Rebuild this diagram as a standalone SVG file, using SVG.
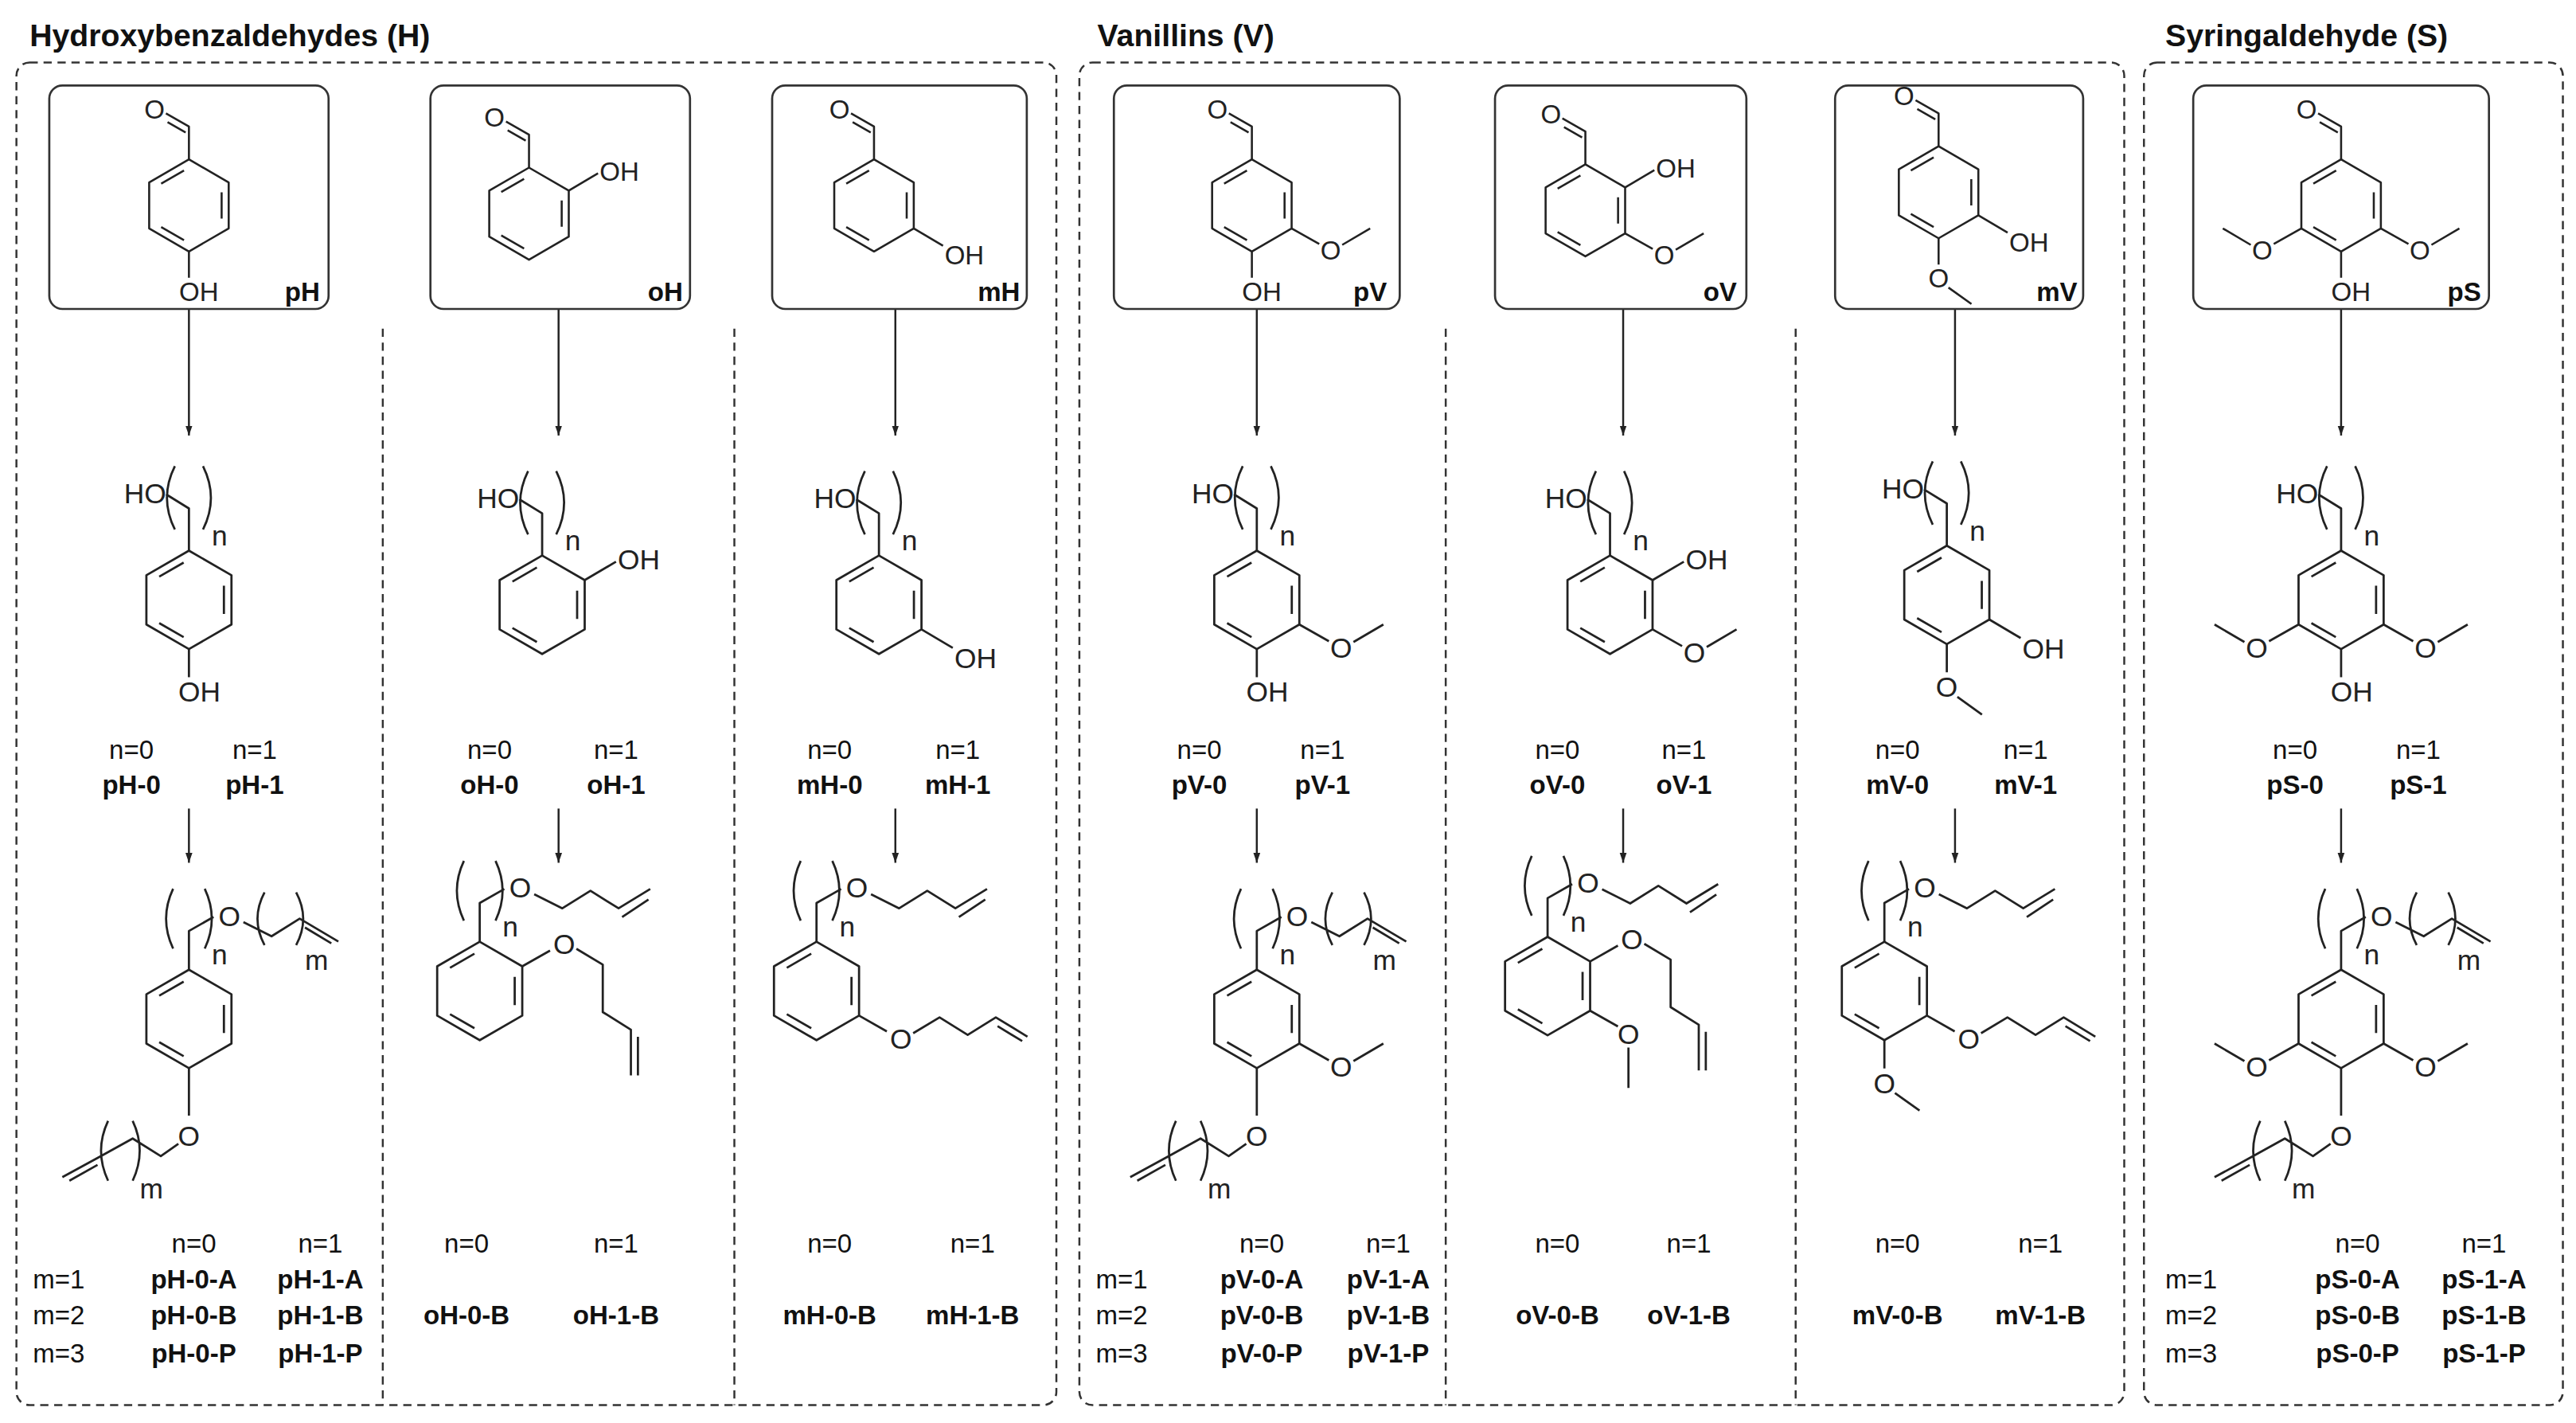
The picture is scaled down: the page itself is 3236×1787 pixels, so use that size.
<svg xmlns="http://www.w3.org/2000/svg" width="3236" height="1787" viewBox="0 0 3236 1787">
<style>
.b{fill:none;stroke:#333;stroke-width:1.3}
.d{fill:none;stroke:#333;stroke-width:1.2;stroke-dasharray:5 3.5}
.mol{fill:none;stroke:#222;stroke-width:1.25;stroke-linejoin:round}
.tt{font-family:"Liberation Sans",Arial,sans-serif;font-weight:bold;font-size:19px;fill:#111;stroke:none}
.lb{font-family:"Liberation Sans",Arial,sans-serif;font-size:16px;fill:#111;stroke:none;text-anchor:middle}
.cd{font-family:"Liberation Sans",Arial,sans-serif;font-size:16px;font-weight:bold;fill:#111;stroke:none;text-anchor:middle}
.mr{font-family:"Liberation Sans",Arial,sans-serif;font-size:16px;fill:#111;stroke:none}
.ar{fill:none;stroke:#222;stroke-width:1.2}
</style>
<defs>
<marker id="ah" viewBox="0 0 10 10" refX="10" refY="5" markerWidth="6" markerHeight="9" markerUnits="userSpaceOnUse" orient="auto"><path d="M0,1.5 L10,5 L0,8.5 Z" fill="#222" stroke="none"/></marker>
<g id="ring"><path d="M0,-28 L24.2,-14 L24.2,14 L0,28 L-24.2,14 L-24.2,-14 Z M-3,-21.2 L-16.9,-13.2 M19.9,-8 L19.9,8 M-3,21.2 L-16.9,13.2"/></g>
<g id="cho"><path d="M0,-28 V-48 L-14,-56 M-2,-44.4 L-13,-50.7"/><text x="-21" y="-53" text-anchor="middle" fill="#222" stroke="none">O</text></g>
<g id="ohB"><path d="M0,28 V44"/><text x="-6" y="58" fill="#222" stroke="none">OH</text></g>
<g id="ohUR"><path d="M24.2,-14 L42,-24.5"/><text x="43" y="-20" fill="#222" stroke="none">OH</text></g>
<g id="ohLR"><path d="M24.2,14 L42,24.5"/><text x="43" y="36" fill="#222" stroke="none">OH</text></g>
<g id="omeLR"><path d="M24.2,14 L41,23.5 M55,24 L72,14"/><text x="48" y="33" text-anchor="middle" fill="#222" stroke="none">O</text></g>
<g id="omeLL"><path d="M-24.2,14 L-41,23.5 M-55,24 L-72,14"/><text x="-48" y="33" text-anchor="middle" fill="#222" stroke="none">O</text></g>
<g id="omeB"><path d="M0,28 V44 M6,58 L20,68"/><text x="0" y="58" text-anchor="middle" fill="#222" stroke="none">O</text></g>
<g id="omeLRdown"><path d="M24.2,14 L40,23 M46,35 V58"/><text x="46" y="33" text-anchor="middle" fill="#222" stroke="none">O</text></g>
<g id="hochain"><path d="M0,-28 V-52 L-13,-60 M-8,-76 Q-17,-58 -8,-40 M8,-76 Q17,-58 8,-40"/><text x="-13" y="-55" text-anchor="end" fill="#222" stroke="none">HO</text><text x="13" y="-31" fill="#222" stroke="none">n</text></g>
<g id="topm"><path d="M0,-28 V-50 L14,-58 M-9,-74 Q-17,-57 -9,-40 M9,-74 Q17,-57 9,-40 M31,-55 L47,-47 L63,-57 L85,-44 M66,-52 L81,-43 M43,-72 Q35,-57 43,-42 M61,-72 Q69,-57 61,-42"/><text x="23" y="-53" text-anchor="middle" fill="#222" stroke="none">O</text><text x="13" y="-31" fill="#222" stroke="none">n</text><text x="66" y="-28" fill="#222" stroke="none">m</text></g>
<g id="topB"><path d="M0,-28 V-50 L14,-58 M-9,-74 Q-17,-57 -9,-40 M9,-74 Q17,-57 9,-40 M31,-55 L47,-47 L63,-57 L79,-47 L97,-58 M81,-42 L96,-52"/><text x="23" y="-53" text-anchor="middle" fill="#222" stroke="none">O</text><text x="13" y="-31" fill="#222" stroke="none">n</text></g>
<g id="paraOm"><path d="M0,28 V55 M-6,71 L-16,78 L-32,68 L-50,78 L-72,90 M-52,83 L-68,92 M-46,58 Q-54,75 -46,92 M-32,58 Q-24,75 -32,92"/><text x="0" y="72" text-anchor="middle" fill="#222" stroke="none">O</text><text x="-28" y="102" fill="#222" stroke="none">m</text></g>
<g id="orthoOB"><path d="M24.2,-14 L40,-23 M55,-24 L70,-15 V12 L86,22 V48 M90,26 V48"/><text x="48" y="-21" text-anchor="middle" fill="#222" stroke="none">O</text></g>
<g id="metaOB"><path d="M24.2,14 L40,23 M55,24 L70,15 L86,25 L102,15 L120,26 M103,20 L117,28.5"/><text x="48" y="33" text-anchor="middle" fill="#222" stroke="none">O</text></g>
</defs>
<rect width="3236" height="1787" fill="#fff"/>
<g transform="scale(2.0638)">
<g id="titles">
<text class="tt" x="18" y="28">Hydroxybenzaldehydes (H)</text>
<text class="tt" x="668" y="28">Vanillins (V)</text>
<text class="tt" x="1318" y="28">Syringaldehyde (S)</text>
</g>
<g id="frames">
<rect class="d" x="10" y="38" width="633" height="817" rx="8"/>
<rect class="d" x="657" y="38" width="636" height="817" rx="8"/>
<rect class="d" x="1305" y="38" width="255" height="817" rx="8"/>
<path class="d" d="M233,200 V855 M447,200 V855 M880,200 V855 M1093,200 V855"/>
</g>
<g id="connectors" class="ar">
<path marker-end="url(#ah)" d="M115,188 V265"/><path marker-end="url(#ah)" d="M115,492 V525"/>
<path marker-end="url(#ah)" d="M340,188 V265"/><path marker-end="url(#ah)" d="M340,492 V525"/>
<path marker-end="url(#ah)" d="M545,188 V265"/><path marker-end="url(#ah)" d="M545,492 V525"/>
<path marker-end="url(#ah)" d="M765,188 V265"/><path marker-end="url(#ah)" d="M765,492 V525"/>
<path marker-end="url(#ah)" d="M988,188 V265"/><path marker-end="url(#ah)" d="M988,492 V525"/>
<path marker-end="url(#ah)" d="M1190,188 V265"/><path marker-end="url(#ah)" d="M1190,492 V525"/>
<path marker-end="url(#ah)" d="M1425,188 V265"/><path marker-end="url(#ah)" d="M1425,492 V525"/>
</g>

<g id="pH" class="mol" font-family="Liberation Sans, Arial, sans-serif" font-size="16">
<rect class="b" x="30" y="52" width="170" height="136" rx="8"/>
<g transform="translate(115,125)"><use href="#ring"/><use href="#cho"/><use href="#ohB"/></g>
<text class="cd" x="184" y="183">pH</text>
</g>
<g id="pH-n" class="mol" font-family="Liberation Sans, Arial, sans-serif" font-size="16">
<g transform="translate(115,365) scale(1.07)"><use href="#ring"/><use href="#hochain"/><use href="#ohB"/></g>
<text class="lb" x="80" y="462">n=0</text><text class="lb" x="155" y="462">n=1</text>
<text class="cd" x="80" y="483">pH-0</text><text class="cd" x="155" y="483">pH-1</text>
</g>
<g id="pH-nm" class="mol" font-family="Liberation Sans, Arial, sans-serif" font-size="16">
<g transform="translate(115,620) scale(1.07)"><use href="#ring"/><use href="#topm"/><use href="#paraOm"/></g>
<text class="lb" x="118" y="762">n=0</text><text class="lb" x="195" y="762">n=1</text>
<text class="mr" x="20" y="784">m=1</text><text class="cd" x="118" y="784">pH-0-A</text><text class="cd" x="195" y="784">pH-1-A</text>
<text class="mr" x="20" y="806">m=2</text><text class="cd" x="118" y="806">pH-0-B</text><text class="cd" x="195" y="806">pH-1-B</text>
<text class="mr" x="20" y="829">m=3</text><text class="cd" x="118" y="829">pH-0-P</text><text class="cd" x="195" y="829">pH-1-P</text>
</g>

<g id="oH" class="mol" font-family="Liberation Sans, Arial, sans-serif" font-size="16">
<rect class="b" x="262" y="52" width="158" height="136" rx="8"/>
<g transform="translate(322,130)"><use href="#ring"/><use href="#cho"/><use href="#ohUR"/></g>
<text class="cd" x="405" y="183">oH</text>
</g>
<g id="oH-n" class="mol" font-family="Liberation Sans, Arial, sans-serif" font-size="16">
<g transform="translate(330,368) scale(1.07)"><use href="#ring"/><use href="#hochain"/><use href="#ohUR"/></g>
<text class="lb" x="298" y="462">n=0</text><text class="lb" x="375" y="462">n=1</text>
<text class="cd" x="298" y="483">oH-0</text><text class="cd" x="375" y="483">oH-1</text>
</g>
<g id="oH-B" class="mol" font-family="Liberation Sans, Arial, sans-serif" font-size="16">
<g transform="translate(292,603) scale(1.07)"><use href="#ring"/><use href="#topB"/><use href="#orthoOB"/></g>
<text class="lb" x="284" y="762">n=0</text><text class="lb" x="375" y="762">n=1</text>
<text class="cd" x="284" y="806">oH-0-B</text><text class="cd" x="375" y="806">oH-1-B</text>
</g>

<g id="mH" class="mol" font-family="Liberation Sans, Arial, sans-serif" font-size="16">
<rect class="b" x="470" y="52" width="155" height="136" rx="8"/>
<g transform="translate(532,125)"><use href="#ring"/><use href="#cho"/><use href="#ohLR"/></g>
<text class="cd" x="608" y="183">mH</text>
</g>
<g id="mH-n" class="mol" font-family="Liberation Sans, Arial, sans-serif" font-size="16">
<g transform="translate(535,368) scale(1.07)"><use href="#ring"/><use href="#hochain"/><use href="#ohLR"/></g>
<text class="lb" x="505" y="462">n=0</text><text class="lb" x="583" y="462">n=1</text>
<text class="cd" x="505" y="483">mH-0</text><text class="cd" x="583" y="483">mH-1</text>
</g>
<g id="mH-B" class="mol" font-family="Liberation Sans, Arial, sans-serif" font-size="16">
<g transform="translate(497,603) scale(1.07)"><use href="#ring"/><use href="#topB"/><use href="#metaOB"/></g>
<text class="lb" x="505" y="762">n=0</text><text class="lb" x="592" y="762">n=1</text>
<text class="cd" x="505" y="806">mH-0-B</text><text class="cd" x="592" y="806">mH-1-B</text>
</g>

<g id="pV" class="mol" font-family="Liberation Sans, Arial, sans-serif" font-size="16">
<rect class="b" x="678" y="52" width="174" height="136" rx="8"/>
<g transform="translate(762,125)"><use href="#ring"/><use href="#cho"/><use href="#ohB"/><use href="#omeLR"/></g>
<text class="cd" x="834" y="183">pV</text>
</g>
<g id="pV-n" class="mol" font-family="Liberation Sans, Arial, sans-serif" font-size="16">
<g transform="translate(765,365) scale(1.07)"><use href="#ring"/><use href="#hochain"/><use href="#ohB"/><use href="#omeLR"/></g>
<text class="lb" x="730" y="462">n=0</text><text class="lb" x="805" y="462">n=1</text>
<text class="cd" x="730" y="483">pV-0</text><text class="cd" x="805" y="483">pV-1</text>
</g>
<g id="pV-nm" class="mol" font-family="Liberation Sans, Arial, sans-serif" font-size="16">
<g transform="translate(765,620) scale(1.07)"><use href="#ring"/><use href="#topm"/><use href="#paraOm"/><use href="#omeLR"/></g>
<text class="lb" x="768" y="762">n=0</text><text class="lb" x="845" y="762">n=1</text>
<text class="mr" x="667" y="784">m=1</text><text class="cd" x="768" y="784">pV-0-A</text><text class="cd" x="845" y="784">pV-1-A</text>
<text class="mr" x="667" y="806">m=2</text><text class="cd" x="768" y="806">pV-0-B</text><text class="cd" x="845" y="806">pV-1-B</text>
<text class="mr" x="667" y="829">m=3</text><text class="cd" x="768" y="829">pV-0-P</text><text class="cd" x="845" y="829">pV-1-P</text>
</g>

<g id="oV" class="mol" font-family="Liberation Sans, Arial, sans-serif" font-size="16">
<rect class="b" x="910" y="52" width="153" height="136" rx="8"/>
<g transform="translate(965,128)"><use href="#ring"/><use href="#cho"/><use href="#ohUR"/><use href="#omeLR"/></g>
<text class="cd" x="1047" y="183">oV</text>
</g>
<g id="oV-n" class="mol" font-family="Liberation Sans, Arial, sans-serif" font-size="16">
<g transform="translate(980,368) scale(1.07)"><use href="#ring"/><use href="#hochain"/><use href="#ohUR"/><use href="#omeLR"/></g>
<text class="lb" x="948" y="462">n=0</text><text class="lb" x="1025" y="462">n=1</text>
<text class="cd" x="948" y="483">oV-0</text><text class="cd" x="1025" y="483">oV-1</text>
</g>
<g id="oV-B" class="mol" font-family="Liberation Sans, Arial, sans-serif" font-size="16">
<g transform="translate(942,600) scale(1.07)"><use href="#ring"/><use href="#topB"/><use href="#orthoOB"/><use href="#omeLRdown"/></g>
<text class="lb" x="948" y="762">n=0</text><text class="lb" x="1028" y="762">n=1</text>
<text class="cd" x="948" y="806">oV-0-B</text><text class="cd" x="1028" y="806">oV-1-B</text>
</g>

<g id="mV" class="mol" font-family="Liberation Sans, Arial, sans-serif" font-size="16">
<rect class="b" x="1117" y="52" width="151" height="136" rx="8"/>
<g transform="translate(1180,117)"><use href="#ring"/><use href="#cho"/><use href="#ohLR"/><use href="#omeB"/></g>
<text class="cd" x="1252" y="183">mV</text>
</g>
<g id="mV-n" class="mol" font-family="Liberation Sans, Arial, sans-serif" font-size="16">
<g transform="translate(1185,362) scale(1.07)"><use href="#ring"/><use href="#hochain"/><use href="#ohLR"/><use href="#omeB"/></g>
<text class="lb" x="1155" y="462">n=0</text><text class="lb" x="1233" y="462">n=1</text>
<text class="cd" x="1155" y="483">mV-0</text><text class="cd" x="1233" y="483">mV-1</text>
</g>
<g id="mV-B" class="mol" font-family="Liberation Sans, Arial, sans-serif" font-size="16">
<g transform="translate(1147,603) scale(1.07)"><use href="#ring"/><use href="#topB"/><use href="#metaOB"/><use href="#omeB"/></g>
<text class="lb" x="1155" y="762">n=0</text><text class="lb" x="1242" y="762">n=1</text>
<text class="cd" x="1155" y="806">mV-0-B</text><text class="cd" x="1242" y="806">mV-1-B</text>
</g>

<g id="pS" class="mol" font-family="Liberation Sans, Arial, sans-serif" font-size="16">
<rect class="b" x="1335" y="52" width="180" height="136" rx="8"/>
<g transform="translate(1425,125)"><use href="#ring"/><use href="#cho"/><use href="#ohB"/><use href="#omeLR"/><use href="#omeLL"/></g>
<text class="cd" x="1500" y="183">pS</text>
</g>
<g id="pS-n" class="mol" font-family="Liberation Sans, Arial, sans-serif" font-size="16">
<g transform="translate(1425,365) scale(1.07)"><use href="#ring"/><use href="#hochain"/><use href="#ohB"/><use href="#omeLR"/><use href="#omeLL"/></g>
<text class="lb" x="1397" y="462">n=0</text><text class="lb" x="1472" y="462">n=1</text>
<text class="cd" x="1397" y="483">pS-0</text><text class="cd" x="1472" y="483">pS-1</text>
</g>
<g id="pS-nm" class="mol" font-family="Liberation Sans, Arial, sans-serif" font-size="16">
<g transform="translate(1425,620) scale(1.07)"><use href="#ring"/><use href="#topm"/><use href="#paraOm"/><use href="#omeLR"/><use href="#omeLL"/></g>
<text class="lb" x="1435" y="762">n=0</text><text class="lb" x="1512" y="762">n=1</text>
<text class="mr" x="1318" y="784">m=1</text><text class="cd" x="1435" y="784">pS-0-A</text><text class="cd" x="1512" y="784">pS-1-A</text>
<text class="mr" x="1318" y="806">m=2</text><text class="cd" x="1435" y="806">pS-0-B</text><text class="cd" x="1512" y="806">pS-1-B</text>
<text class="mr" x="1318" y="829">m=3</text><text class="cd" x="1435" y="829">pS-0-P</text><text class="cd" x="1512" y="829">pS-1-P</text>
</g>
</g>
</svg>
